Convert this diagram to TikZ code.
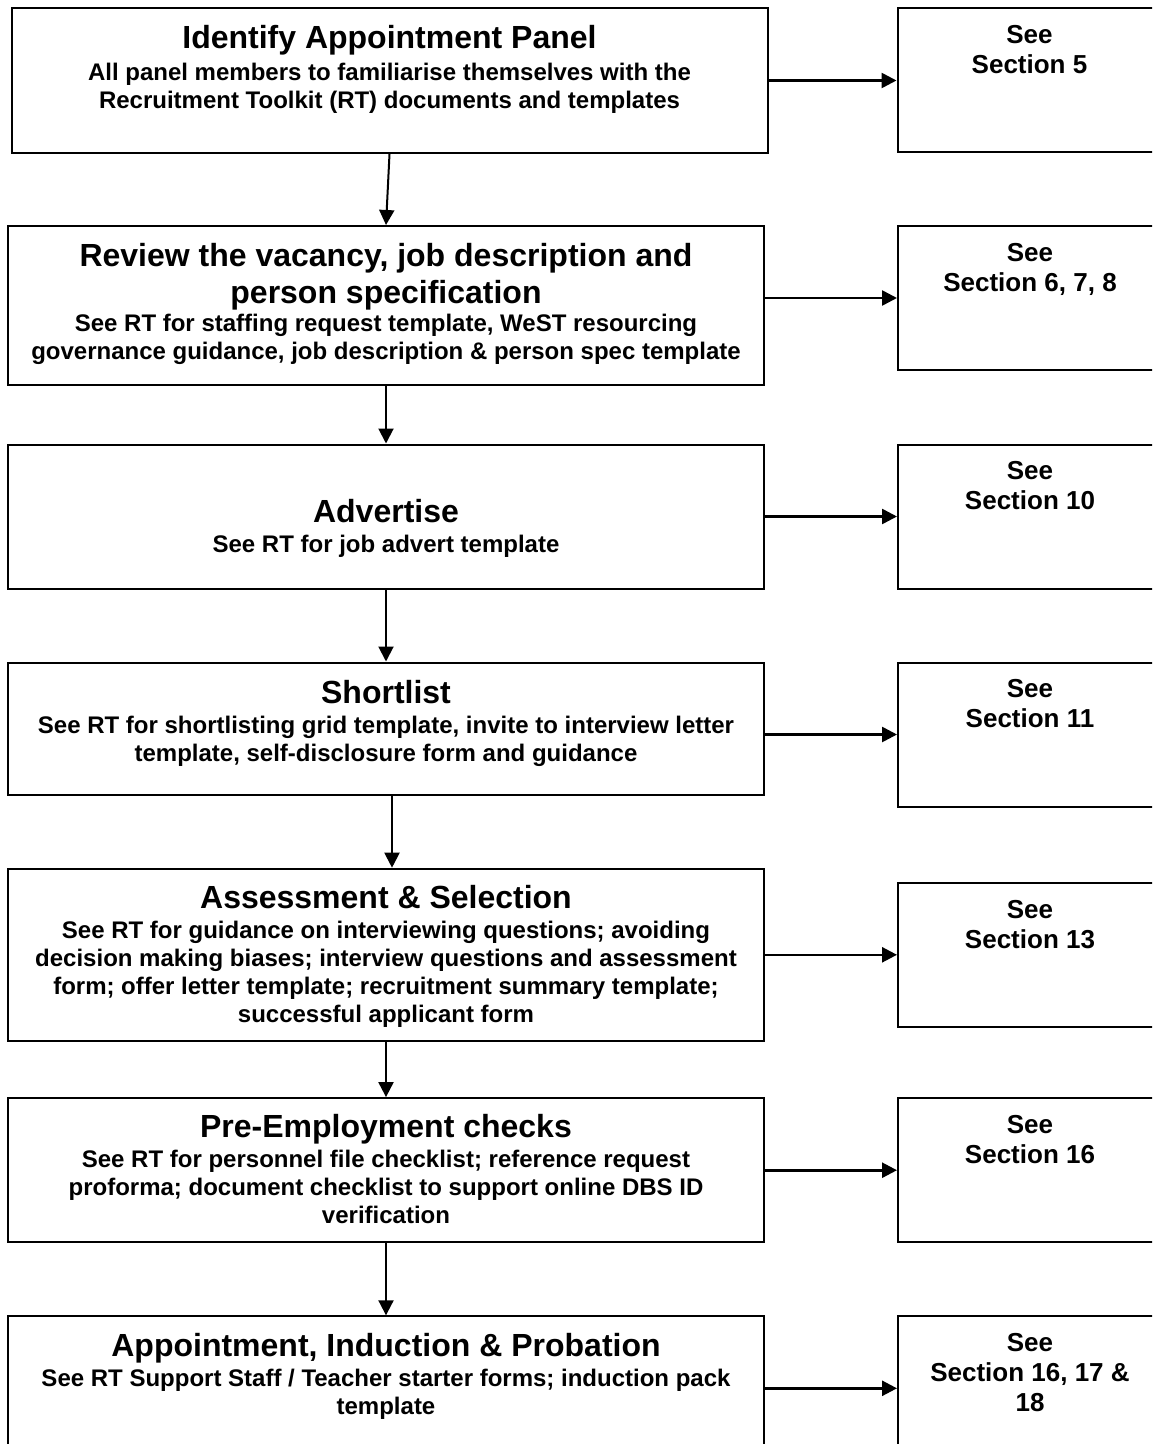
\documentclass[tikz,border=0pt]{standalone}
\usepackage{fontspec}
\setmainfont{Liberation Sans}
\usetikzlibrary{positioning,arrows.meta}

\newcommand{\steptitle}[1]{{\fontsize{16}{18}\selectfont #1}}

\begin{document}
\begin{tikzpicture}[node distance=36pt,
    step block/.style={rectangle, draw, line width=1pt, minimum width=378pt, inner ysep=0pt, align=center,
        font={\bfseries\fontsize{12}{14}\selectfont\lineskiplimit=-\maxdimen}},
    see block/.style={rectangle, draw, line width=1pt, minimum width=132pt, inner ysep=0pt, align=center,
        text height=32.7pt, text depth=39.3pt, font={\bfseries\fontsize{13}{15}\selectfont\lineskiplimit=-\maxdimen}},
    flow arrow/.style={-{Triangle[length=7.5pt,width=7.5pt]}, line width=1pt},
    see arrow/.style={flow arrow, line width=1.3pt}]

    \useasboundingbox (0,0) rectangle (576pt,-722pt);
    \clip (0,0) rectangle (576pt,-722pt);

    \node [step block, text height=50.1pt, text depth=22.4pt] (panel) at (194.75pt,-40.25pt)
        {\steptitle{Identify Appointment Panel}\\[2pt]
         All panel members to familiarise themselves with the\\
         Recruitment Toolkit (RT) documents and templates};
    \node [step block, below=35.5pt of panel, xshift=-1.75pt, text height=66.9pt, text depth=12.6pt] (review)
        {\steptitle{Review the vacancy, job description and}\\[4.4pt]
         \steptitle{person specification}\\
         See RT for staffing request template, WeST resourcing\\
         governance guidance, job description \& person spec template};
    \node [step block, below=28.75pt of review, text height=53.8pt, text depth=18.2pt] (advert)
        {\steptitle{Advertise}\\[1pt]
         See RT for job advert template};
    \node [step block, below=of advert, text height=49.6pt, text depth=16.5pt] (shortlist)
        {\steptitle{Shortlist}\\[1pt]
         See RT for shortlisting grid template, invite to interview letter\\
         template, self-disclosure form and guidance};
    \node [step block, below=of shortlist, text height=77pt, text depth=9.1pt] (assess)
        {\steptitle{Assessment \& Selection}\\[1pt]
         See RT for guidance on interviewing questions; avoiding\\
         decision making biases; interview questions and assessment\\
         form; offer letter template; recruitment summary template;\\
         successful applicant form};
    \node [step block, below=27.6pt of assess, text height=62.8pt, text depth=9.3pt] (checks)
        {\steptitle{Pre-Employment checks}\\[1pt]
         See RT for personnel file checklist; reference request\\
         proforma; document checklist to support online DBS ID\\
         verification};
    \node [step block, below=of checks, text height=49pt, text depth=23pt] (appoint)
        {\steptitle{Appointment, Induction \& Probation}\\[1pt]
         See RT Support Staff / Teacher starter forms; induction pack\\
         template};

    \node [see block, right=64pt of panel] (sec5) {See\\Section 5};
    \node [see block, right=66pt of review.north east, anchor=north west] (sec6) {See\\Section 6, 7, 8};
    \node [see block, right=66pt of advert] (sec10) {See\\Section 10};
    \node [see block, right=66pt of shortlist.north east, anchor=north west] (sec11) {See\\Section 11};
    \node [see block, right=66pt of assess] (sec13) {See\\Section 13};
    \node [see block, right=66pt of checks] (sec16) {See\\Section 16};
    \node [see block, right=66pt of appoint, text height=47.7pt, text depth=24.3pt] (sec18) {See\\Section 16, 17 \&\\18};

    \draw [flow arrow] (panel.south) -- (review.north);
    \draw [flow arrow] (review) -- (advert);
    \draw [flow arrow] (advert) -- (shortlist);
    \draw [flow arrow] ([xshift=3pt]shortlist.south) -- ([xshift=3pt]assess.north);
    \draw [flow arrow] (assess) -- (checks);
    \draw [flow arrow] (checks) -- (appoint);

    \draw [see arrow] (panel) -- (sec5);
    \draw [see arrow] (review.east |- sec6.west) -- (sec6.west);
    \draw [see arrow] (advert) -- (sec10);
    \draw [see arrow] (shortlist.east |- sec11.west) -- (sec11.west);
    \draw [see arrow] (assess) -- (sec13);
    \draw [see arrow] (checks) -- (sec16);
    \draw [see arrow] (appoint) -- (sec18);

\end{tikzpicture}
\end{document}
